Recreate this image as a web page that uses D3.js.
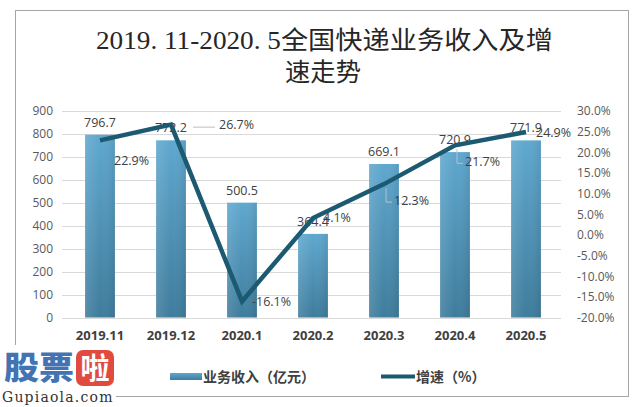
<!DOCTYPE html>
<html><head><meta charset="utf-8">
<script src="https://cdn.jsdelivr.net/npm/d3@7"></script>
<style>body{margin:0;background:#fff}svg{display:block}</style>
</head><body>
<script>
const categories = ["2019.11","2019.12","2020.1","2020.2","2020.3","2020.4","2020.5"];
const revenue = [796.7, 772.2, 500.5, 364.4, 669.1, 720.9, 771.9];
const growth = [22.9, 26.7, -16.1, 4.1, 12.3, 21.7, 24.9];
const leftTicks = [0,100,200,300,400,500,600,700,800,900];
const rightTicks = [-20,-15,-10,-5,0,5,10,15,20,25,30];
const titleLines = ["2019. 11-2020. 5全国快递业务收入及增","速走势"];
const legendLabels = ["业务收入（亿元）","增速（%）"];

const W=642,H=407;
const svg=d3.select("body").append("svg").attr("width",W).attr("height",H);
const defs=svg.append("defs");
const g1=defs.append("linearGradient").attr("id","barV").attr("x1",0).attr("y1",0).attr("x2",0).attr("y2",1);
g1.append("stop").attr("offset","0%").attr("stop-color","#5fa8cf");
g1.append("stop").attr("offset","100%").attr("stop-color","#3f7c9c");
const g2=defs.append("linearGradient").attr("id","barH").attr("x1",0).attr("y1",0).attr("x2",1).attr("y2",0);
g2.append("stop").attr("offset","0%").attr("stop-color","#ffffff").attr("stop-opacity",0.12);
g2.append("stop").attr("offset","50%").attr("stop-color","#ffffff").attr("stop-opacity",0);
g2.append("stop").attr("offset","100%").attr("stop-color","#000000").attr("stop-opacity",0.08);

// frame
svg.append("rect").attr("x",15.5).attr("y",10.5).attr("width",613).attr("height",386).attr("fill","#fff").attr("stroke","#a6a6a6").attr("stroke-width",1);

// title
const title=svg.append("g").attr("font-family","'Liberation Serif','Noto Sans CJK SC',serif").attr("font-size",25).attr("fill","#262626");
title.append("text").attr("x",96).attr("y",49).attr("textLength",457).attr("lengthAdjust","spacingAndGlyphs").text(titleLines[0]);
title.append("text").attr("x",285).attr("y",81).attr("textLength",76).attr("lengthAdjust","spacingAndGlyphs").text(titleLines[1]);

const x=d3.scaleBand().domain(categories).range([64.5,561.5]).paddingInner(0.58).paddingOuter(0.29);
const yL=d3.scaleLinear().domain([0,900]).range([317.5,111]);
const yR=d3.scaleLinear().domain([-20,30]).range([317.5,111]);

// grid
svg.append("g").selectAll("line").data(leftTicks).join("line")
 .attr("x1",62).attr("x2",561).attr("y1",d=>Math.round(yL(d))+0.5).attr("y2",d=>Math.round(yL(d))+0.5)
 .attr("stroke","#d9d9d9").attr("stroke-width",1);

// axes
const axL=svg.append("g").attr("transform","translate(62,0)").call(d3.axisLeft(yL).tickValues(leftTicks).tickSize(0).tickPadding(9));
const axR=svg.append("g").attr("transform","translate(571,0)").call(d3.axisRight(yR).tickValues(rightTicks).tickSize(0).tickPadding(6).tickFormat(d=>d.toFixed(1)+"%"));
[axL,axR].forEach(a=>{a.select(".domain").remove();a.selectAll("text").attr("font-family","'Open Sans','Noto Sans',sans-serif").attr("font-size",12).attr("fill","#595959");});
const axB=svg.append("g").attr("transform","translate(0,318)").call(d3.axisBottom(x).tickSize(0).tickPadding(13));
axB.select(".domain").remove();
axB.selectAll("text").attr("font-family","'Open Sans','Noto Sans',sans-serif").attr("font-size",13).attr("font-weight","bold").attr("fill","#404040");

// bars
const bars=svg.append("g");
bars.selectAll("rect.b").data(categories).join("rect").attr("class","b")
 .attr("x",d=>x(d)).attr("width",x.bandwidth())
 .attr("y",(d,i)=>yL(revenue[i])).attr("height",(d,i)=>yL(0)-yL(revenue[i])).attr("fill","url(#barV)");
bars.selectAll("rect.h").data(categories).join("rect").attr("class","h")
 .attr("x",d=>x(d)).attr("width",x.bandwidth())
 .attr("y",(d,i)=>yL(revenue[i])).attr("height",(d,i)=>yL(0)-yL(revenue[i])).attr("fill","url(#barH)");

// bar labels
svg.append("g").selectAll("text").data(categories).join("text")
 .attr("x",d=>x(d)+x.bandwidth()/2).attr("y",(d,i)=>yL(revenue[i])-8)
 .attr("text-anchor","middle").attr("font-family","'Open Sans','Noto Sans',sans-serif").attr("font-size",12.5).attr("fill","#404040")
 .text((d,i)=>revenue[i].toFixed(1));

// growth label leaders
const cx=d=>x(d)+x.bandwidth()/2;
const labelOff=[[14,20],[48,0],[10,0],[10,0],[10,16],[10,16],[10,0]];
const lead=svg.append("g").attr("stroke","#bfbfbf").attr("stroke-width",1).attr("fill","none");
lead.append("line").attr("x1",cx(categories[1])+22).attr("x2",cx(categories[1])+44).attr("y1",yR(growth[1])+2.5).attr("y2",yR(growth[1])+2.5);
[4,5].forEach(i=>{lead.append("polyline").attr("points",`${cx(categories[i])+2},${yR(growth[i])+4} ${cx(categories[i])+2},${yR(growth[i])+18} ${cx(categories[i])+8},${yR(growth[i])+18}`);});

// line
const line=d3.line().x((d,i)=>cx(categories[i])).y(d=>yR(d));
svg.append("path").datum(growth).attr("d",line).attr("fill","none").attr("stroke","#1b5a70").attr("stroke-width",4.5).attr("stroke-linejoin","miter");

// growth labels
svg.append("g").selectAll("text").data(growth).join("text")
 .attr("x",(d,i)=>cx(categories[i])+labelOff[i][0]).attr("y",(d,i)=>yR(d)+labelOff[i][1]+4.5)
 .attr("font-family","'Open Sans','Noto Sans',sans-serif").attr("font-size",12.5).attr("fill","#404040")
 .text(d=>d.toFixed(1)+"%");

// legend
const lg=svg.append("g").attr("font-family","'Noto Sans CJK SC',sans-serif").attr("font-size",14).attr("font-weight","bold").attr("fill","#404040");
lg.append("rect").attr("x",170).attr("y",373).attr("width",32).attr("height",7).attr("fill","url(#barV)");
lg.append("text").attr("x",203).attr("y",382).text(legendLabels[0]);
lg.append("line").attr("x1",381).attr("x2",415).attr("y1",376.5).attr("y2",376.5).attr("stroke","#1b5a70").attr("stroke-width",4);
lg.append("text").attr("x",416).attr("y",382).text(legendLabels[1]);

// watermark
const wm=svg.append("g");
wm.append("rect").attr("x",0).attr("y",345).attr("width",116).attr("height",62).attr("fill","#fff");
wm.append("text").attr("x",4).attr("y",379).attr("font-family","'Noto Sans CJK SC'").attr("font-weight","900").attr("font-size",32).attr("textLength",70).attr("lengthAdjust","spacingAndGlyphs").attr("fill","#4373b3").text("股票");
wm.append("rect").attr("x",76).attr("y",350).attr("width",38).attr("height",36).attr("rx",7).attr("fill","#e04a3f");
wm.append("text").attr("x",95).attr("y",379).attr("text-anchor","middle").attr("font-family","'Noto Sans CJK SC'").attr("font-weight","bold").attr("font-size",29).attr("fill","#fff").text("啦");
wm.append("text").attr("x",2).attr("y",402).attr("font-family","'DejaVu Serif',serif").attr("font-size",14).attr("letter-spacing",1.2).attr("fill","#333").text("Gupiaola.com");
</script>
</body></html>
